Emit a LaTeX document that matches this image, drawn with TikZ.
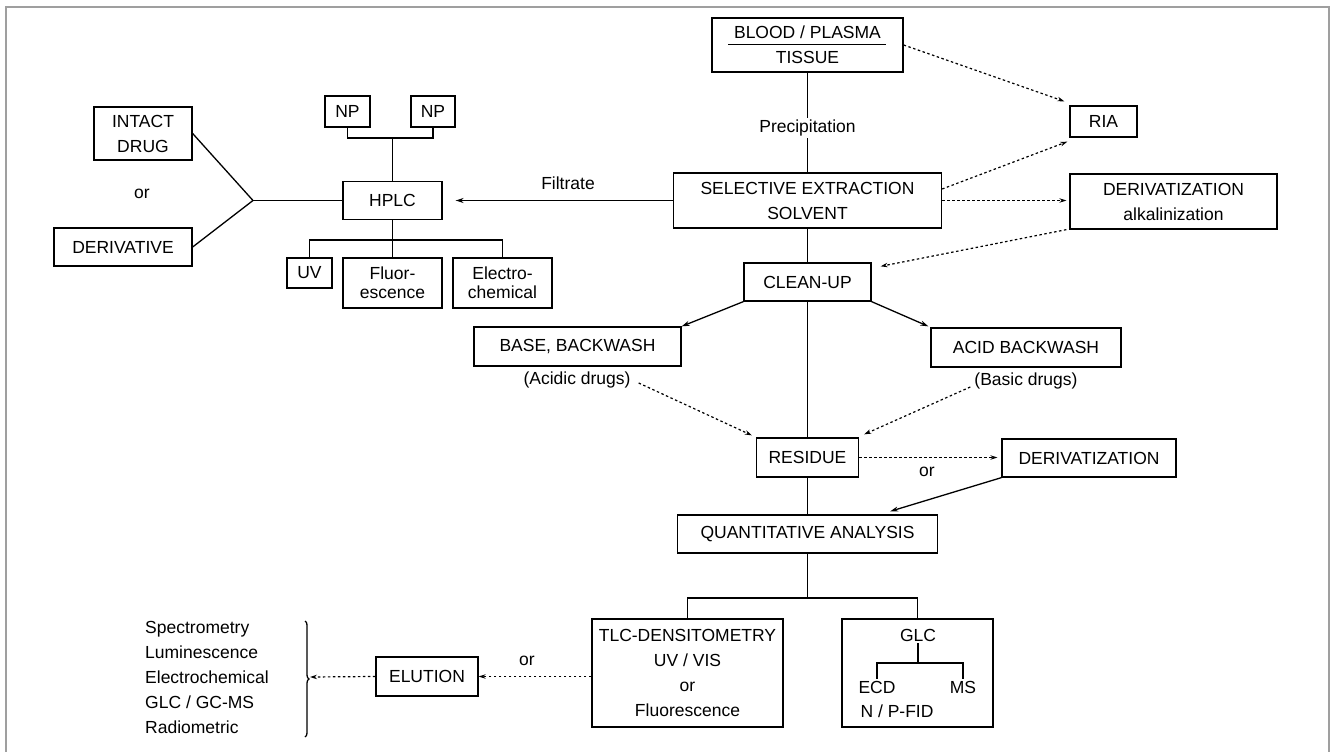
\documentclass[tikz,border=0pt]{standalone}
\usepackage{fontspec}
\setmainfont{Liberation Sans}
\usetikzlibrary{arrows.meta,decorations.pathreplacing,calc}
\begin{document}
\begin{tikzpicture}[x=1pt,y=-1pt,
  every node/.style={font=\fontsize{17.5}{25}\selectfont, text=black},
  box/.style={draw, line width=1.3pt, inner sep=0pt, align=center},
  tight/.style={font=\fontsize{17.5}{19}\selectfont},
  lbl/.style={inner sep=2pt, align=center},
  conn/.style={line width=1.3pt},
  arr/.style={conn, -{Stealth[length=8pt,width=5pt]}},
  dot/.style={line width=1.2pt, dash pattern=on 2.5pt off 2.5pt, -{Stealth[length=7pt,width=4.5pt]}},
]
\useasboundingbox (0,0) rectangle (1334,752);
\fill[white] (0,0) rectangle (1334,752);
\draw[line width=2pt, gray!75] (6,752) -- (6,7) -- (1329,7) -- (1329,752);

% main column
\node[box, minimum width=191pt, minimum height=54pt] (blood) at (807.5,45) {BLOOD / PLASMA\\TISSUE};
\draw[conn] (728,44.5) -- (886,44.5);
\node[lbl] (prec) at (807.5,128) {Precipitation};
\node[box, minimum width=268pt, minimum height=55pt] (sel) at (807.5,200.5) {SELECTIVE EXTRACTION\\SOLVENT};
\node[box, minimum width=67pt, minimum height=31pt] (ria) at (1103.5,121.5) {RIA};
\node[box, minimum width=207pt, minimum height=55pt] (dalk) at (1173.5,201.5) {DERIVATIZATION\\alkalinization};
\node[box, minimum width=127pt, minimum height=38pt] (clean) at (807.5,282) {CLEAN-UP};
\node[box, minimum width=207pt, minimum height=39pt] (base) at (577.5,346.5) {BASE, BACKWASH};
\node[box, minimum width=190pt, minimum height=39pt] (acid) at (1026,347.5) {ACID BACKWASH};
\node[lbl] (acidic) at (577,380) {(Acidic drugs)};
\node[lbl] (basic) at (1026,381) {(Basic drugs)};
\node[box, minimum width=102pt, minimum height=39pt] (res) at (807.5,457.5) {RESIDUE};
\node[box, minimum width=174pt, minimum height=38pt] (der2) at (1089,458) {DERIVATIZATION};
\node[lbl] (or2) at (927,472) {or};
\node[box, minimum width=260pt, minimum height=38pt] (quant) at (807.5,534) {QUANTITATIVE ANALYSIS};
\node[box, minimum width=191pt, minimum height=108pt] (tlc) at (687.5,673) {TLC-DENSITOMETRY\\UV / VIS\\or\\Fluorescence};
\node[box, minimum width=151pt, minimum height=108pt] (glc) at (917.5,673) {};
\node[lbl] (glct) at (918,635) {GLC};
\node[lbl] (ecd) at (877,687) {ECD};
\node[lbl] (ms) at (963,687) {MS};
\node[lbl] (npfid) at (897,711) {N / P-FID};
\node[box, minimum width=102pt, minimum height=39pt] (elution) at (427,676.5) {ELUTION};
\node[lbl] (or3) at (527,661) {or};
\node[lbl, align=left, anchor=west] (list) at (143,677) {Spectrometry\\Luminescence\\Electrochemical\\GLC / GC-MS\\Radiometric};

% HPLC cluster
\node[box, minimum width=99pt, minimum height=38pt] (hplc) at (392.5,200.5) {HPLC};
\node[box, minimum width=45pt, minimum height=31pt] (np1) at (347.5,111.5) {NP};
\node[box, minimum width=44pt, minimum height=31pt] (np2) at (433,111.5) {NP};
\node[box, minimum width=45pt, minimum height=30pt] (uv) at (309.5,273) {UV};
\node[box, tight, minimum width=99pt, minimum height=50pt] (fluor) at (392.5,283) {Fluor-\\escence};
\node[box, tight, minimum width=99pt, minimum height=50pt] (electro) at (502.5,283) {Electro-\\chemical};
\node[box, minimum width=98pt, minimum height=53pt] (intact) at (143,133.5) {INTACT\\DRUG};
\node[box, minimum width=138pt, minimum height=38pt] (deriv) at (123,247) {DERIVATIVE};
\node[lbl] (orL) at (142,194) {or};
\node[lbl] (filt) at (568,183) {Filtrate};

\coordinate (junc) at (253,200.5);
\coordinate (npj) at (392.5,138);
\coordinate (hj) at (392.5,240);
\coordinate (qj) at (807.5,598);
\coordinate (gj) at (918,663);
\coordinate (bt) at (310,677);

% solid connectors
\draw[conn] (blood.south) -- (prec.north);
\draw[conn] (prec.south) -- (sel.north);
\draw[arr] (sel.west) -- ([xshift=13pt]hplc.east);
\draw[conn] (np1.south) |- (npj) -| (np2.south);
\draw[conn] (npj) -- (hplc.north);
\draw[conn] (uv.north) |- (hj) -| (electro.north);
\draw[conn] (hplc.south) -- (fluor.north);
\draw[conn] (intact.east) -- (junc) -- (deriv.east);
\draw[conn] (junc) -- (hplc.west);
\draw[conn] (sel.south) -- (clean.north);
\draw[arr] (clean.south west) -- (base.north east);
\draw[arr] (clean.south east) -- ([xshift=-2pt,yshift=1pt]acid.north west);
\draw[conn] (clean.south) -- (res.north);
\draw[conn] (res.south) -- (quant.north);
\draw[arr] (der2.south west) -- ([xshift=-48pt,yshift=3pt]quant.north east);
\draw[conn] (tlc.north) |- (qj) -| (glc.north);
\draw[conn] (quant.south) -- (qj);
\draw[conn] (glct.south) -- (gj);
\draw[conn] (ecd.north) |- (gj) -| (ms.north);

% dotted connectors
\draw[dot] (blood.east) -- ([xshift=-5pt,yshift=4pt]ria.north west);
\draw[dot] ([yshift=11.5pt]sel.east) -- ([xshift=-2pt,yshift=-4pt]ria.south west);
\draw[dot] (sel.east) -- ([xshift=-3pt]sel.east -| dalk.west);
\draw[dot] ([xshift=-3pt]dalk.south west) -- ([xshift=9pt,yshift=-4pt]clean.north east);
\draw[dot] ([xshift=6pt,yshift=-3pt]acidic.east) -- ([xshift=-4pt,yshift=2pt]res.north west);
\draw[dot] ([xshift=-2pt,yshift=-6pt]basic.west) -- ([xshift=5pt,yshift=3pt]res.north east);
\draw[dot] (res.east) -- ([xshift=-4pt]res.east -| der2.west);
\draw[dot] (tlc.west |- elution.east) -- (elution.east);
\draw[dot] (elution.west) -- (bt);

% brace
\draw[line width=1.3pt, decorate, decoration={brace, amplitude=4pt}] (305,621) -- (305,737);
\end{tikzpicture}
\end{document}
